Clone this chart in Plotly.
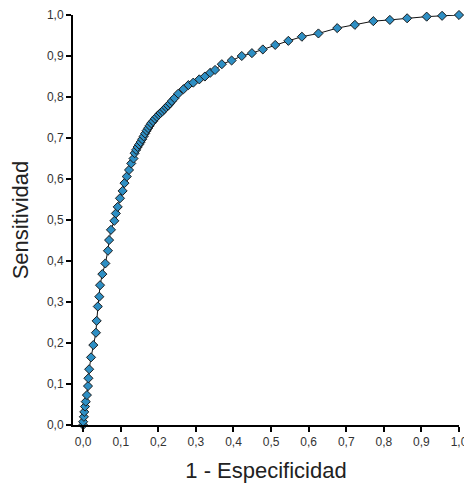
import plotly.graph_objects as go

# 1 - Especificidad (x) and Sensitividad (y)
fpr = [0.000, 0.000, 0.002, 0.003, 0.005, 0.007, 0.010, 0.013, 0.014, 0.016,
       0.021, 0.027, 0.034, 0.036, 0.039, 0.043, 0.045, 0.051, 0.059, 0.066,
       0.069, 0.074, 0.083, 0.087, 0.092, 0.098, 0.105, 0.110, 0.116, 0.122,
       0.128, 0.134, 0.137, 0.141, 0.145, 0.149, 0.153, 0.157, 0.161, 0.165,
       0.169, 0.173, 0.177, 0.181, 0.186, 0.191, 0.196, 0.201, 0.206, 0.211,
       0.216, 0.221, 0.226, 0.231, 0.236, 0.243, 0.253, 0.267, 0.280, 0.293,
       0.309, 0.324, 0.338, 0.351, 0.369, 0.395, 0.422, 0.449, 0.478, 0.511,
       0.546, 0.582, 0.626, 0.676, 0.723, 0.772, 0.816, 0.862, 0.914, 0.955,
       1.000]
tpr = [0.000, 0.008, 0.020, 0.032, 0.045, 0.057, 0.073, 0.095, 0.114, 0.136,
       0.165, 0.195, 0.225, 0.254, 0.289, 0.313, 0.341, 0.368, 0.394, 0.425,
       0.451, 0.476, 0.498, 0.516, 0.532, 0.553, 0.571, 0.590, 0.606, 0.622,
       0.638, 0.650, 0.663, 0.671, 0.678, 0.684, 0.690, 0.697, 0.704, 0.711,
       0.718, 0.724, 0.730, 0.736, 0.741, 0.747, 0.752, 0.757, 0.761, 0.765,
       0.770, 0.775, 0.779, 0.784, 0.790, 0.797, 0.808, 0.819, 0.829, 0.835,
       0.843, 0.850, 0.859, 0.866, 0.880, 0.889, 0.900, 0.907, 0.916, 0.927,
       0.937, 0.947, 0.955, 0.968, 0.976, 0.985, 0.988, 0.992, 0.996, 0.998,
       1.000]

tick_vals = [0.0, 0.1, 0.2, 0.3, 0.4, 0.5, 0.6, 0.7, 0.8, 0.9, 1.0]
tick_text = ["0,0", "0,1", "0,2", "0,3", "0,4", "0,5", "0,6", "0,7", "0,8", "0,9", "1,0"]

fig = go.Figure()
fig.add_trace(go.Scatter(
    x=fpr, y=tpr, mode="lines+markers",
    line=dict(color="#111111", width=1),
    marker=dict(symbol="diamond", size=7, color="#2e8fc4",
                line=dict(color="#1a1a1a", width=1)),
    cliponaxis=False, showlegend=False,
))

font_family = "Liberation Sans, Arial, sans-serif"
fig.update_layout(
    width=464, height=480,
    margin=dict(l=65, r=13, t=7, b=63),
    paper_bgcolor="white", plot_bgcolor="white",
    font=dict(family=font_family, color="#222222"),
    xaxis=dict(
        range=[-0.027, 1.0], tickvals=tick_vals, ticktext=tick_text,
        showgrid=False, zeroline=False, showline=True, linecolor="black", linewidth=2,
        ticks="outside", ticklen=5, tickwidth=2, tickcolor="black",
        tickfont=dict(size=12, color="#333333"),
        title=dict(text="1 - Especificidad", font=dict(size=22, color="#222222"), standoff=14),
        automargin=False,
    ),
    yaxis=dict(
        range=[0, 1.0], tickvals=tick_vals, ticktext=tick_text,
        showgrid=False, zeroline=False, showline=True, linecolor="black", linewidth=2,
        ticks="outside", ticklen=5, tickwidth=2, tickcolor="black",
        tickfont=dict(size=12, color="#333333"),
        title=dict(text="Sensitividad", font=dict(size=22, color="#222222"), standoff=12),
        automargin=False,
    ),
)

fig.write_html("out.html")
